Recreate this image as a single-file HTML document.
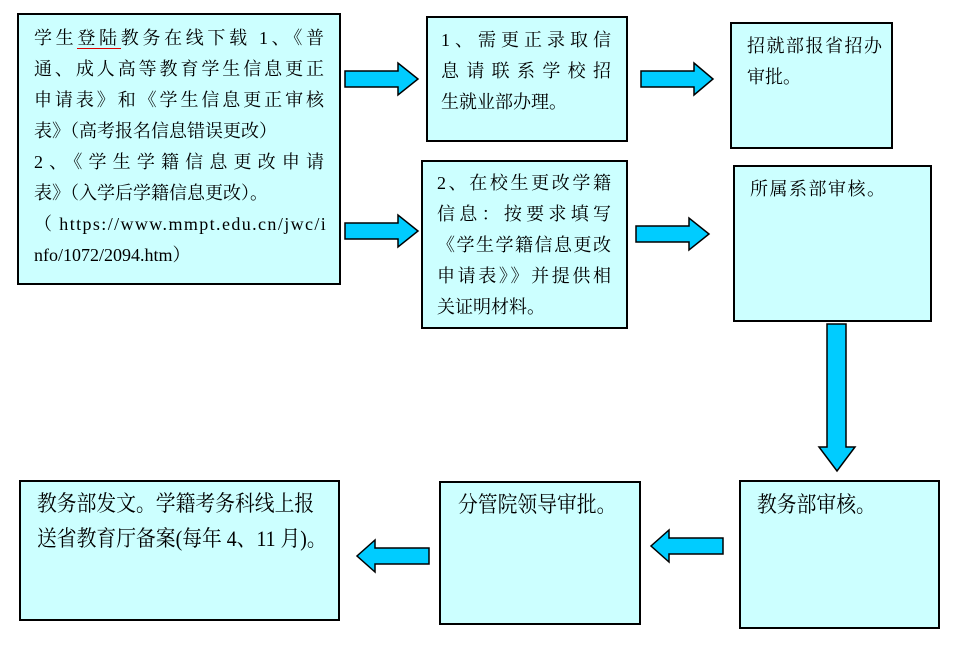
<!DOCTYPE html>
<html><head><meta charset="utf-8"><style>
body{margin:0;width:962px;height:651px;background:#fff;position:relative;overflow:hidden;font-family:"Liberation Serif","Noto Serif CJK SC",serif;color:#000}
.b{position:absolute;background:#ccffff;border:2px solid #000;box-sizing:border-box}
.t{position:absolute;font-size:18px;line-height:31px}
.t div{text-align:justify;text-align-last:justify;white-space:nowrap}
.t div.l{text-align-last:left}
svg{position:absolute;left:0;top:0}
.n{font-size:22px;line-height:35px;transform:scaleX(0.9);transform-origin:left top;white-space:nowrap}
</style></head><body>
<div class="b" style="left:17px;top:13px;width:324px;height:272px"></div>
<div class="t" style="left:34px;top:23px;width:290px">
<div>学生<span style="border-bottom:1px solid #d00">登陆</span>教务在线下载 1、《普</div>
<div>通、成人高等教育学生信息更正</div>
<div>申请表》和《学生信息更正审核</div>
<div class="l">表》（高考报名信息错误更改）</div>
<div>2、《学生学籍信息更改申请</div>
<div class="l">表》（入学后学籍信息更改）。</div>
<div class="l" style="letter-spacing:1.4px">（ https://www.mmpt.edu.cn/jwc/i</div>
<div class="l">nfo/1072/2094.htm）</div>
</div>

<div class="b" style="left:426px;top:16px;width:202px;height:126px"></div>
<div class="t" style="left:441px;top:25px;width:170px">
<div>1、需更正录取信</div><div>息请联系学校招</div><div class="l">生就业部办理。</div></div>

<div class="b" style="left:730px;top:22px;width:163px;height:127px"></div>
<div class="t" style="left:747px;top:31px">
<div class="l" style="letter-spacing:1.5px">招就部报省招办</div><div class="l">审批。</div></div>

<div class="b" style="left:421px;top:160px;width:207px;height:169px"></div>
<div class="t" style="left:437px;top:168px;width:174px">
<div>2、在校生更改学籍</div><div>信息：按要求填写</div><div>《学生学籍信息更改</div><div>申请表》》并提供相</div><div class="l">关证明材料。</div></div>

<div class="b" style="left:733px;top:165px;width:199px;height:157px"></div>
<div class="t" style="left:750px;top:174px"><div class="l" style="letter-spacing:1.5px">所属系部审核。</div></div>

<div class="b" style="left:739px;top:480px;width:201px;height:149px"></div>
<div class="t n" style="left:757px;top:487px">教务部审核。</div>

<div class="b" style="left:439px;top:481px;width:202px;height:144px"></div>
<div class="t n" style="left:458px;top:487px">分管院领导审批。</div>

<div class="b" style="left:19px;top:480px;width:321px;height:141px"></div>
<div class="t n" style="left:37px;top:486px">教务部发文。学籍考务科线上报<br>送省教育厅备案(每年 4、11 月)。</div>

<svg width="962" height="651">
<g fill="#00ccff" stroke="#000" stroke-width="1.5" stroke-linejoin="miter">
<polygon points="345,71 398,71 398,63 418,79 398,95 398,87 345,87"/>
<polygon points="345,223 398,223 398,215 418,231 398,247 398,239 345,239"/>
<polygon points="641,71 694,71 694,63 713,79 694,95 694,87 641,87"/>
<polygon points="636,226 689,226 689,218 709,234 689,250 689,242 636,242"/>
<polygon points="827,324 846,324 846,447 855,447 837,471 819,447 827,447"/>
<polygon points="723,538 669,538 669,530 651,546 669,562 669,554 723,554"/>
<polygon points="429,548 375,548 375,540 357,556 375,572 375,564 429,564"/>
</g>
</svg>
</body></html>
